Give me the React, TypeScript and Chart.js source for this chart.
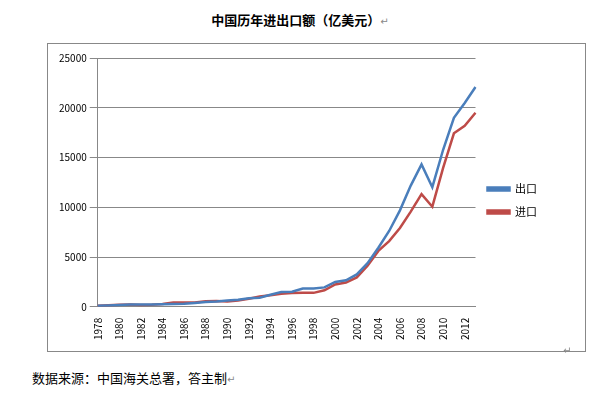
import React, { useEffect, useRef } from "react";
import { Chart, registerables } from "chart.js";
Chart.register(...registerables);

const years: string[] = [];
for (let y = 1978; y <= 2013; y++) years.push(String(y));
const exportsData = [98,137,181,220,223,222,261,274,309,394,475,525,621,719,849,917,1210,1488,1511,1828,1837,1949,2492,2661,3256,4382,5933,7620,9690,12180,14307,12016,15778,18984,20487,22090];
const importsData = [109,157,200,220,193,214,274,423,429,432,553,591,534,638,806,1040,1156,1321,1388,1424,1402,1657,2251,2436,2952,4128,5612,6600,7915,9561,11326,10059,13962,17435,18184,19500];
const font = "'Noto Sans CJK SC', 'DejaVu Sans', sans-serif";

export default function App() {
  const ref = useRef<HTMLCanvasElement>(null);
  useEffect(() => {
    const chart = new Chart(ref.current!, {
      type: "line",
      data: {
        labels: years,
        datasets: [
          { label: "出口", data: exportsData, borderColor: "#4a7ebb", backgroundColor: "#4a7ebb", borderWidth: 2.5, pointRadius: 0, tension: 0 },
          { label: "进口", data: importsData, borderColor: "#be4b48", backgroundColor: "#be4b48", borderWidth: 2.5, pointRadius: 0, tension: 0 },
        ],
      },
      options: {
        animation: false,
        responsive: false,
        layout: { padding: { top: 14, right: 38, bottom: 8, left: 8 } },
        plugins: {
          legend: {
            position: "right",
            labels: { font: { family: font, size: 11 }, color: "#000", boxWidth: 22, boxHeight: 3, padding: 12 },
          },
          tooltip: { enabled: false },
        },
        scales: {
          x: {
            grid: { display: false },
            border: { color: "#888" },
            ticks: {
              autoSkip: false, maxRotation: 90, minRotation: 90, color: "#000",
              font: { family: font, size: 10 },
              callback: (_v: any, i: number) => (i % 2 === 0 ? years[i] : ""),
            },
          },
          y: {
            min: 0, max: 25000,
            ticks: { stepSize: 5000, color: "#000", font: { family: font, size: 10 }, callback: (v: any) => String(v) },
            grid: { color: "#888" },
            border: { color: "#888" },
          },
        },
      },
    });
    return () => chart.destroy();
  }, []);
  return (
    <div style={{ position: "fixed", left: 0, top: 0, width: 600, height: 400, background: "#fff", fontFamily: font }}>
      <div style={{ position: "absolute", top: 10, left: 0, width: 600, textAlign: "center", fontSize: 13, fontWeight: "bold" }}>
        中国历年进出口额（亿美元）<span style={{ fontWeight: "normal", color: "#888", fontSize: 10 }}>↵</span>
      </div>
      <div style={{ position: "absolute", left: 47, top: 43, width: 539, height: 309, border: "1px solid #888", boxSizing: "border-box" }}>
        <canvas ref={ref} width={537} height={307} />
      </div>
      <span style={{ position: "absolute", left: 563, top: 342, color: "#888", fontSize: 10 }}>↵</span>
      <div style={{ position: "absolute", left: 32, top: 368, fontSize: 13 }}>
        数据来源：中国海关总署，答主制<span style={{ color: "#888", fontSize: 10 }}>↵</span>
      </div>
    </div>
  );
}
